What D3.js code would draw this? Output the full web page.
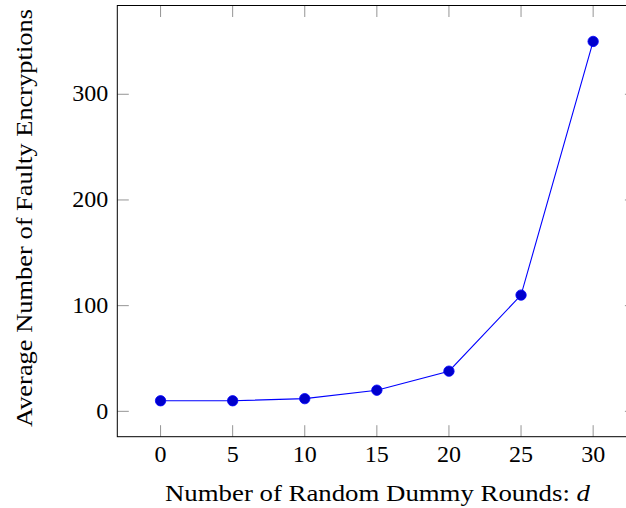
<!DOCTYPE html>
<html>
<head>
<meta charset="utf-8">
<script src="https://cdn.jsdelivr.net/npm/d3@7"></script>
<style>
  body { margin: 0; background: #fff; }
  svg text { font-family: "Liberation Serif", "DejaVu Serif", serif; fill: #000; }
</style>
</head>
<body>
<div id="chart"></div>
<script>
// data
const rounds = [0, 5, 10, 15, 20, 25, 30];
const faulty = [10, 10, 12, 20, 38, 110, 350];
const xTicks = [0, 5, 10, 15, 20, 25, 30];
const yTicks = [0, 100, 200, 300];

const W = 626, H = 508;
// the box runs past the right edge of the picture, like the original
const margin = { top: 5.5, left: 117.3, bottom: 71.3 };
const plotW = 519.1;
const plotH = H - margin.top - margin.bottom;

const svg = d3.select("#chart").append("svg")
  .attr("width", W)
  .attr("height", H);

const x = d3.scaleLinear().domain([-3, 33]).range([0, plotW]);
const y = d3.scaleLinear().domain([-24, 384]).range([plotH, 0]);

const g = svg.append("g").attr("transform", `translate(${margin.left},${margin.top})`);

// inward ticks on all four sides (pgfplots style)
const tickLen = 11.5;
const tickCol = "#7a7a7a";
g.append("g").selectAll("line.xb").data(xTicks).enter().append("line")
  .attr("x1", d => x(d)).attr("x2", d => x(d))
  .attr("y1", plotH).attr("y2", plotH - tickLen)
  .attr("stroke", tickCol).attr("stroke-width", 0.8);
g.append("g").selectAll("line.xt").data(xTicks).enter().append("line")
  .attr("x1", d => x(d)).attr("x2", d => x(d))
  .attr("y1", 0).attr("y2", tickLen)
  .attr("stroke", tickCol).attr("stroke-width", 0.8);
g.append("g").selectAll("line.yl").data(yTicks).enter().append("line")
  .attr("x1", 0).attr("x2", tickLen)
  .attr("y1", d => y(d)).attr("y2", d => y(d))
  .attr("stroke", tickCol).attr("stroke-width", 0.8);
g.append("g").selectAll("line.yr").data(yTicks).enter().append("line")
  .attr("x1", plotW).attr("x2", plotW - tickLen)
  .attr("y1", d => y(d)).attr("y2", d => y(d))
  .attr("stroke", tickCol).attr("stroke-width", 0.8);

// frame
g.append("rect")
  .attr("x", 0).attr("y", 0)
  .attr("width", plotW).attr("height", plotH)
  .attr("fill", "none").attr("stroke", "#000").attr("stroke-width", 1);

// tick labels
g.append("g").selectAll("text").data(xTicks).enter().append("text")
  .attr("x", d => x(d))
  .attr("y", plotH + 25)
  .attr("text-anchor", "middle")
  .style("font-size", "24px")
  .text(d => d);

g.append("g").selectAll("text").data(yTicks).enter().append("text")
  .attr("x", -9)
  .attr("y", d => y(d))
  .attr("dy", "0.3em")
  .attr("text-anchor", "end")
  .style("font-size", "24px")
  .text(d => d);

// line + marks
const line = d3.line()
  .x((d, i) => x(rounds[i]))
  .y(d => y(d));

g.append("path")
  .attr("d", line(faulty))
  .attr("fill", "none")
  .attr("stroke", "#0000ff")
  .attr("stroke-width", 1.1);

g.selectAll("circle").data(faulty).enter().append("circle")
  .attr("cx", (d, i) => x(rounds[i]))
  .attr("cy", d => y(d))
  .attr("r", 5.2)
  .attr("fill", "#0000cc")
  .attr("stroke", "#0000ff")
  .attr("stroke-width", 0.8);

// axis titles (stretched a little, the original font is wider)
const xl = svg.append("text")
  .attr("x", 377.5)
  .attr("y", 501)
  .attr("text-anchor", "middle")
  .attr("textLength", 425)
  .attr("lengthAdjust", "spacingAndGlyphs")
  .style("font-size", "24px");
xl.append("tspan").text("Number of Random Dummy Rounds: ");
xl.append("tspan").style("font-style", "italic").text("d");

svg.append("text")
  .attr("transform", `translate(32,218) rotate(-90)`)
  .attr("text-anchor", "middle")
  .attr("textLength", 418)
  .attr("lengthAdjust", "spacingAndGlyphs")
  .style("font-size", "24px")
  .text("Average Number of Faulty Encryptions");
</script>
</body>
</html>
